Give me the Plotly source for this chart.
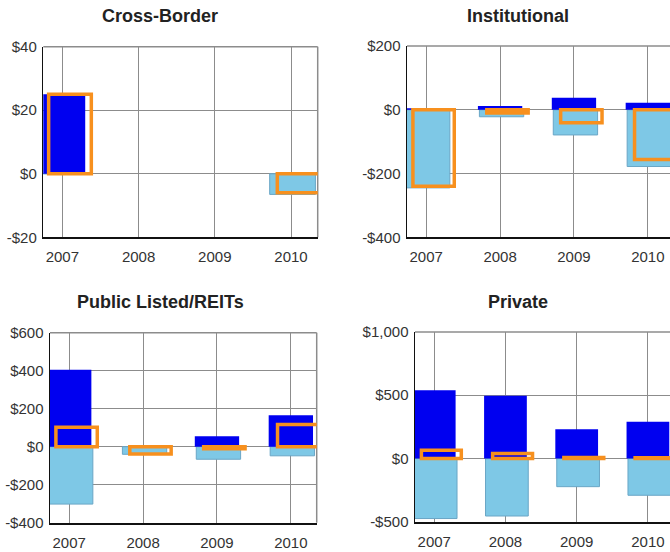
import plotly.graph_objects as go

years = [2007, 2008, 2009, 2010]

# Cross-Border
cb_acq = [25, None, None, 0]
cb_disp = [0, None, None, -6.5]
cb_net = [25, None, None, -6]

# Institutional
inst_acq = [5, 12, 38, 22]
inst_disp = [-245, -22, -79, -178]
inst_net = [-240, -10, -41, -156]

# Public Listed/REITs
pub_acq = [405, 0, 55, 165]
pub_disp = [-302, -40, -66, -48]
pub_net = [103, -38, -11, 117]

# Private
priv_acq = [540, 495, 231, 291]
priv_disp = [-475, -455, -223, -291]
priv_net = [65, 40, 8, 5]

titles = ["Cross-Border", "Institutional", "Public Listed/REITs", "Private"]

cb_ticks = [-20, 0, 20, 40]
cb_ticktext = ["-$20", "$0", "$20", "$40"]
inst_ticks = [-400, -200, 0, 200]
inst_ticktext = ["-$400", "-$200", "$0", "$200"]
pub_ticks = [-400, -200, 0, 200, 400, 600]
pub_ticktext = ["-$400", "-$200", "$0", "$200", "$400", "$600"]
priv_ticks = [-500, 0, 500, 1000]
priv_ticktext = ["-$500", "$0", "$500", "$1,000"]

W, H = 670, 552
BLUE = "#0000f0"
LIGHT = "#7ec8e6"
LIGHT_EDGE = "#6aa6c6"
ORANGE = "#f7901e"
GRID = "#8c8c8c"
FONT = "Arial, Liberation Sans, sans-serif"

panels = [
    dict(acq=cb_acq, disp=cb_disp, net=cb_net, tv=cb_ticks, tt=cb_ticktext,
         box=(43.3, 317.7, 46.7, 237.3), xr=[2006.75, 2010.35], yr=[-20, 40], rb=True),
    dict(acq=inst_acq, disp=inst_disp, net=inst_net, tv=inst_ticks, tt=inst_ticktext,
         box=(407, 670, 46.0, 237.3), xr=[2006.74, 2010.30], yr=[-400, 200], rb=False),
    dict(acq=pub_acq, disp=pub_disp, net=pub_net, tv=pub_ticks, tt=pub_ticktext,
         box=(50, 316.7, 332.7, 522.7), xr=[2006.74, 2010.35], yr=[-400, 600], rb=True),
    dict(acq=priv_acq, disp=priv_disp, net=priv_net, tv=priv_ticks, tt=priv_ticktext,
         box=(415, 670, 332.0, 521.7), xr=[2006.73, 2010.31], yr=[-500, 1000], rb=False),
]

title_pos = [(160, 16), (517.5, 16), (160.5, 302), (517.5, 302)]

fig = go.Figure()
layout = dict(
    width=W, height=H,
    margin=dict(l=0, r=0, t=0, b=0, pad=0, autoexpand=False),
    paper_bgcolor="white", plot_bgcolor="white",
    barmode="overlay", showlegend=False,
    font=dict(family=FONT, size=15, color="#333333"),
)
shapes = []
annotations = []

for i, p in enumerate(panels, start=1):
    xa = "x" if i == 1 else f"x{i}"
    ya = "y" if i == 1 else f"y{i}"
    l, r, t, b = p["box"]
    fig.add_trace(go.Bar(x=years, y=p["disp"], xaxis=xa, yaxis=ya,
                         offset=-0.28, width=0.6,
                         marker=dict(color=LIGHT, line=dict(color=LIGHT_EDGE, width=1))))
    fig.add_trace(go.Bar(x=years, y=p["acq"], xaxis=xa, yaxis=ya,
                         offset=-0.3, width=0.6,
                         marker=dict(color=BLUE, line=dict(color=BLUE, width=0))))
    fig.add_trace(go.Bar(x=years, y=p["net"], xaxis=xa, yaxis=ya,
                         offset=-0.18, width=0.56,
                         marker=dict(color="rgba(0,0,0,0)", line=dict(color=ORANGE, width=3.5))))
    xkey = "xaxis" if i == 1 else f"xaxis{i}"
    ykey = "yaxis" if i == 1 else f"yaxis{i}"
    layout[xkey] = dict(
        domain=[l / W, min(r / W, 1.0)], anchor=ya, range=p["xr"],
        tickvals=years, ticktext=[str(y) for y in years],
        showgrid=True, gridcolor=GRID, gridwidth=1,
        showline=True, linecolor="#111111", linewidth=2,
        zeroline=False, ticks="", ticklabelstandoff=5, automargin=False,
        tickfont=dict(size=15, color="#333333"), fixedrange=True,
    )
    layout[ykey] = dict(
        domain=[1 - b / H, 1 - t / H], anchor=xa, range=p["yr"],
        tickvals=p["tv"], ticktext=p["tt"],
        showgrid=True, gridcolor=GRID, gridwidth=1,
        zeroline=True, zerolinecolor=GRID, zerolinewidth=1,
        showline=True, linecolor="#111111", linewidth=1.5,
        ticks="", ticklabelstandoff=2, automargin=False,
        tickfont=dict(size=15, color="#333333"), fixedrange=True,
    )
    # grey top border
    shapes.append(dict(type="line", xref=f"{xa} domain", yref=f"{ya} domain",
                       x0=0, x1=1, y0=1, y1=1, line=dict(color=GRID, width=1.5),
                       layer="below"))
    if p["rb"]:
        shapes.append(dict(type="line", xref=f"{xa} domain", yref=f"{ya} domain",
                           x0=1, x1=1, y0=0, y1=1, line=dict(color=GRID, width=1.5),
                           layer="below"))
    tx, ty = title_pos[i - 1]
    annotations.append(dict(text=f"<b>{titles[i-1]}</b>", xref="paper", yref="paper",
                            x=tx / W, y=1 - ty / H, xanchor="center", yanchor="middle",
                            showarrow=False, font=dict(size=18, color="#222222", family=FONT)))

layout["shapes"] = shapes
layout["annotations"] = annotations
fig.update_layout(**layout)
fig.write_html("out.html",
               config={"displayModeBar": False, "staticPlot": True},
               post_script="document.body.style.margin='0';document.body.style.overflow='hidden';")
